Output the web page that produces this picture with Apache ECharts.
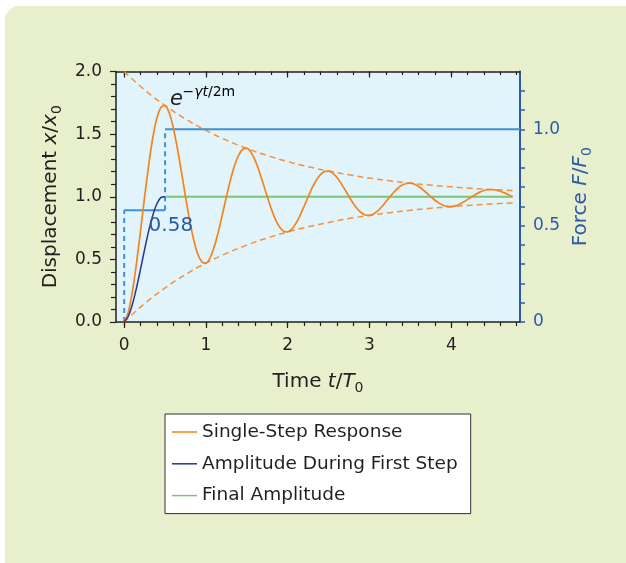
<!DOCTYPE html>
<html><head><meta charset="utf-8">
<script src="https://cdn.jsdelivr.net/npm/echarts@6/dist/echarts.min.js"></script>
<style>html,body{margin:0;padding:0;background:#fff;}#c{width:626px;height:563px;}</style>
</head><body><div id="c"></div>
<script>
// ---- data ----
const respT = [0,0.05,0.1,0.15,0.2,0.25,0.3,0.35,0.4,0.45,0.5,0.55,0.6,0.65,0.7,0.75,0.8,0.85,0.9,0.95,
  1.0,1.05,1.1,1.15,1.2,1.25,1.3,1.35,1.4,1.45,1.5,1.55,1.6,1.65,1.7,1.75,1.8,1.85,1.9,1.95,
  2.0,2.05,2.1,2.15,2.2,2.25,2.3,2.35,2.4,2.45,2.5,2.55,2.6,2.65,2.7,2.75,2.8,2.85,2.9,2.95,
  3.0,3.05,3.1,3.15,3.2,3.25,3.3,3.35,3.4,3.45,3.5,3.55,3.6,3.65,3.7,3.75,3.8,3.85,3.9,3.95,
  4.0,4.05,4.1,4.15,4.2,4.25,4.3,4.35,4.4,4.45,4.5,4.55,4.6,4.65,4.7,4.75];
const respX = [0,0.079,0.241,0.466,0.728,1.000,1.255,1.471,1.628,1.715,1.728,1.671,1.553,1.389,1.198,1.000,0.814,0.657,0.543,0.480,
  0.470,0.512,0.598,0.717,0.856,1.000,1.135,1.250,1.333,1.379,1.386,1.356,1.293,1.206,1.105,1.000,0.901,0.818,0.758,0.724,
  0.719,0.741,0.787,0.850,0.924,1.000,1.072,1.132,1.176,1.201,1.205,1.189,1.155,1.109,1.056,1.000,0.948,0.904,0.872,0.854,
  0.851,0.863,0.887,0.920,0.960,1.000,1.038,1.070,1.093,1.106,1.108,1.100,1.082,1.058,1.030,1.000,0.972,0.949,0.932,0.923,
  0.921,0.927,0.940,0.958,0.979,1.000,1.020,1.037,1.050,1.056,1.058,1.053,1.044,1.031,1.016,1.000];
const firstT = [0,0.05,0.1,0.15,0.2,0.25,0.3,0.35,0.4,0.45,0.5];
const firstX = [0,0.046,0.140,0.270,0.422,0.580,0.728,0.853,0.944,0.995,1.0];
const finalT = [0.5,4.75];
const finalX = [1.0,1.0];
const envT = [0,0.25,0.5,0.75,1.0,1.25,1.5,1.75,2.0,2.25,2.5,2.75,3.0,3.25,3.5,3.75,4.0,4.25,4.5,4.75];
const envUpper = [2.0,1.853,1.728,1.621,1.530,1.452,1.386,1.329,1.281,1.240,1.205,1.175,1.149,1.127,1.108,1.093,1.079,1.067,1.058,1.049];
const envLower = [0,0.147,0.272,0.379,0.470,0.548,0.614,0.671,0.719,0.760,0.795,0.826,0.851,0.873,0.892,0.908,0.921,0.933,0.943,0.951];
const forceT = [0,0.5,4.84];
const forceLevel = [0.58,1.0];
const xMajorTicks = [0,1,2,3,4];
const xMinorTicks = [0,0.2,0.4,0.6,0.8,1,1.2,1.4,1.6,1.8,2,2.2,2.4,2.6,2.8,3,3.2,3.4,3.6,3.8,4,4.2,4.4,4.6,4.8];
const yRightLabels = [0,0.5,1.0];
const yRightTicks = [0,0.1,0.2,0.3,0.4,0.5,0.6,0.7,0.8,0.9,1.0,1.1,1.2];
const legendNames = ['Single-Step Response','Amplitude During First Step','Final Amplitude'];
const forceLabel = '0.58';

// ---- styling ----
const F = 'DejaVu Sans';
const AX = '#231f20';
const BLUE_AX = '#2b5ca8';
const ORANGE = '#f3841f';
const ENV = '#f4913a';
const FORCE = '#3f90d2';
const DARKBLUE = '#27358f';
const GREEN = '#7cc576';
const pair = (xs, ys) => xs.map((x, i) => [x, ys[i]]);
const rich = (color) => ({
  n: {fontSize: 20, fontFamily: F, color: color, lineHeight: 26},
  i: {fontSize: 20, fontFamily: F, fontStyle: 'italic', color: color, lineHeight: 26},
  s: {fontSize: 14, fontFamily: F, color: color, verticalAlign: 'bottom', lineHeight: 16}
});

const chart = echarts.init(document.getElementById('c'), null, {renderer: 'canvas', width: 626, height: 563});

const xBase = {type: 'value', gridIndex: 0, min: -0.1, max: 4.84, splitLine: {show: false}};
const panel = {id: 'panel', type: 'rect', z: -100, shape: {x: 5, y: 6, width: 660, height: 620, r: 14}, style: {fill: '#e8efcc'}};

const option = {
  animation: false,
  backgroundColor: '#ffffff',
  graphic: [panel],
  grid: {left: 116, top: 71.5, width: 404, height: 250.5, show: true, backgroundColor: '#e1f3fb', borderWidth: 0},
  legend: {
    data: legendNames,
    orient: 'vertical', left: 165, top: 414,
    icon: 'rect', itemWidth: 25, itemHeight: 1.5, itemGap: 12.8,
    padding: [8.5, 13, 8.5, 7],
    backgroundColor: '#ffffff', borderColor: '#333333', borderWidth: 1, borderRadius: 0,
    textStyle: {fontFamily: F, fontSize: 18.5, color: AX},
    selectedMode: false
  },
  xAxis: [
    Object.assign({}, xBase, {
      position: 'bottom',
      axisLine: {show: true, onZero: false, lineStyle: {color: AX, width: 1.5}},
      axisTick: {show: true, inside: false, customValues: xMajorTicks, length: 6, lineStyle: {color: AX, width: 1.2}},
      axisLabel: {show: true, customValues: xMajorTicks, fontFamily: F, fontSize: 17, color: AX, margin: 15},
      name: '{n|Time }{i|t}{n|/}{i|T}{s|0}', nameLocation: 'middle', nameGap: 47,
      nameTextStyle: {fontFamily: F, fontSize: 20, color: AX, rich: rich(AX)}
    }),
    Object.assign({}, xBase, {
      position: 'bottom',
      axisLine: {show: false, onZero: false},
      axisTick: {show: true, inside: false, customValues: xMinorTicks, length: 4, lineStyle: {color: AX, width: 1.2}},
      axisLabel: {show: false}
    }),
    Object.assign({}, xBase, {
      position: 'top',
      axisLine: {show: true, onZero: false, lineStyle: {color: AX, width: 1.5}},
      axisTick: {show: true, inside: true, customValues: xMajorTicks, length: 6, lineStyle: {color: AX, width: 1.2}},
      axisLabel: {show: false}
    }),
    Object.assign({}, xBase, {
      position: 'top',
      axisLine: {show: false, onZero: false},
      axisTick: {show: true, inside: true, customValues: xMinorTicks, length: 3.5, lineStyle: {color: AX, width: 1.2}},
      axisLabel: {show: false}
    })
  ],
  yAxis: [
    {
      type: 'value', gridIndex: 0, position: 'left', min: 0, max: 2, interval: 0.5,
      splitLine: {show: false},
      axisLine: {show: true, onZero: false, lineStyle: {color: AX, width: 1.5}},
      axisTick: {show: true, inside: false, length: 6, lineStyle: {color: AX, width: 1.2}},
      minorTick: {show: true, splitNumber: 5, length: 5, lineStyle: {color: AX, width: 1.2}},
      axisLabel: {fontFamily: F, fontSize: 17, color: AX, margin: 14, formatter: v => v.toFixed(1)},
      name: '{n|Displacement }{i|x}{n|/}{i|x}{s|0}', nameLocation: 'middle', nameGap: 50, nameRotate: 90,
      nameTextStyle: {fontFamily: F, fontSize: 20, color: AX, rich: rich(AX)}
    },
    {
      type: 'value', gridIndex: 0, position: 'right', min: 0, max: 1.3,
      splitLine: {show: false},
      axisLine: {show: true, onZero: false, lineStyle: {color: BLUE_AX, width: 2}},
      axisTick: {show: true, inside: false, customValues: yRightTicks, length: 5, lineStyle: {color: BLUE_AX, width: 1.5}},
      axisLabel: {customValues: yRightLabels, fontFamily: F, fontSize: 17, color: BLUE_AX, margin: 13,
        formatter: v => (v === 0 ? '0' : v.toFixed(1))},
      name: '{n|Force }{i|F}{n|/}{i|F}{s|0}', nameLocation: 'middle', nameGap: 48, nameRotate: 90,
      nameTextStyle: {fontFamily: F, fontSize: 20, color: BLUE_AX, rich: rich(BLUE_AX)}
    }
  ],
  series: [
    {name: 'envUpper', type: 'line', xAxisIndex: 0, yAxisIndex: 0, data: pair(envT, envUpper), smooth: true, symbol: 'none', silent: true,
      itemStyle: {color: ENV}, lineStyle: {color: ENV, width: 1.5, type: [6, 4]}, z: 2},
    {name: 'envLower', type: 'line', xAxisIndex: 0, yAxisIndex: 0, data: pair(envT, envLower), smooth: true, symbol: 'none', silent: true,
      itemStyle: {color: ENV}, lineStyle: {color: ENV, width: 1.5, type: [6, 4]}, z: 2},
    {name: 'force1', type: 'line', xAxisIndex: 0, yAxisIndex: 1, data: [[forceT[0], forceLevel[0]], [forceT[1], forceLevel[0]]], symbol: 'none', silent: true,
      itemStyle: {color: FORCE}, lineStyle: {color: FORCE, width: 2}, z: 3},
    {name: 'force2', type: 'line', xAxisIndex: 0, yAxisIndex: 1, data: [[forceT[1], forceLevel[1]], [forceT[2], forceLevel[1]]], symbol: 'none', silent: true,
      itemStyle: {color: FORCE}, lineStyle: {color: FORCE, width: 2}, z: 3},
    {name: 'forceRise1', type: 'line', xAxisIndex: 0, yAxisIndex: 1, data: [[forceT[0], 0], [forceT[0], forceLevel[0]]], symbol: 'none', silent: true,
      itemStyle: {color: FORCE}, lineStyle: {color: FORCE, width: 2, type: [5, 4]}, z: 3},
    {name: 'forceRise2', type: 'line', xAxisIndex: 0, yAxisIndex: 1, data: [[forceT[1], forceLevel[0]], [forceT[1], forceLevel[1]]], symbol: 'none', silent: true,
      itemStyle: {color: FORCE}, lineStyle: {color: FORCE, width: 2, type: [5, 4]}, z: 3},
    {name: legendNames[2], type: 'line', xAxisIndex: 0, yAxisIndex: 0, data: pair(finalT, finalX), symbol: 'none', silent: true,
      itemStyle: {color: GREEN}, lineStyle: {color: GREEN, width: 2.2}, z: 4},
    {name: legendNames[0], type: 'line', xAxisIndex: 0, yAxisIndex: 0, data: pair(respT, respX), smooth: 0.25, symbol: 'none', silent: true,
      itemStyle: {color: ORANGE}, lineStyle: {color: ORANGE, width: 1.7}, z: 5},
    {name: legendNames[1], type: 'line', xAxisIndex: 0, yAxisIndex: 0, data: pair(firstT, firstX), smooth: 0.25, symbol: 'none', silent: true,
      itemStyle: {color: DARKBLUE}, lineStyle: {color: DARKBLUE, width: 1.5}, z: 6}
  ]
};
chart.setOption(option);

// annotations placed in data coordinates
const px = (x, y, yi) => chart.convertToPixel({xAxisIndex: 0, yAxisIndex: yi || 0}, [x, y]);
const eP = px(0.559, 1.780);
const supP = px(0.712, 1.834);
const fP = px(0.571, 0.765);
chart.setOption({
  graphic: [
    panel,
    {id: 'e', type: 'text', z: 10, x: eP[0], y: eP[1],
      style: {text: 'e', font: 'italic 21px "DejaVu Sans"', fill: AX, align: 'left', verticalAlign: 'middle'}},
    {id: 'sup', type: 'text', z: 10, x: supP[0], y: supP[1],
      style: {text: '{a|−}{i|γt}{a|/2m}', align: 'left', verticalAlign: 'middle',
        rich: {a: {fontSize: 14, fontFamily: F, color: AX}, i: {fontSize: 14, fontFamily: F, fontStyle: 'italic', color: AX}}}},
    {id: 'f58', type: 'text', z: 10, x: fP[0], y: fP[1],
      style: {text: forceLabel, font: '20px "DejaVu Sans"', fill: BLUE_AX, align: 'center', verticalAlign: 'middle'}}
  ]
});
</script>
</body></html>
